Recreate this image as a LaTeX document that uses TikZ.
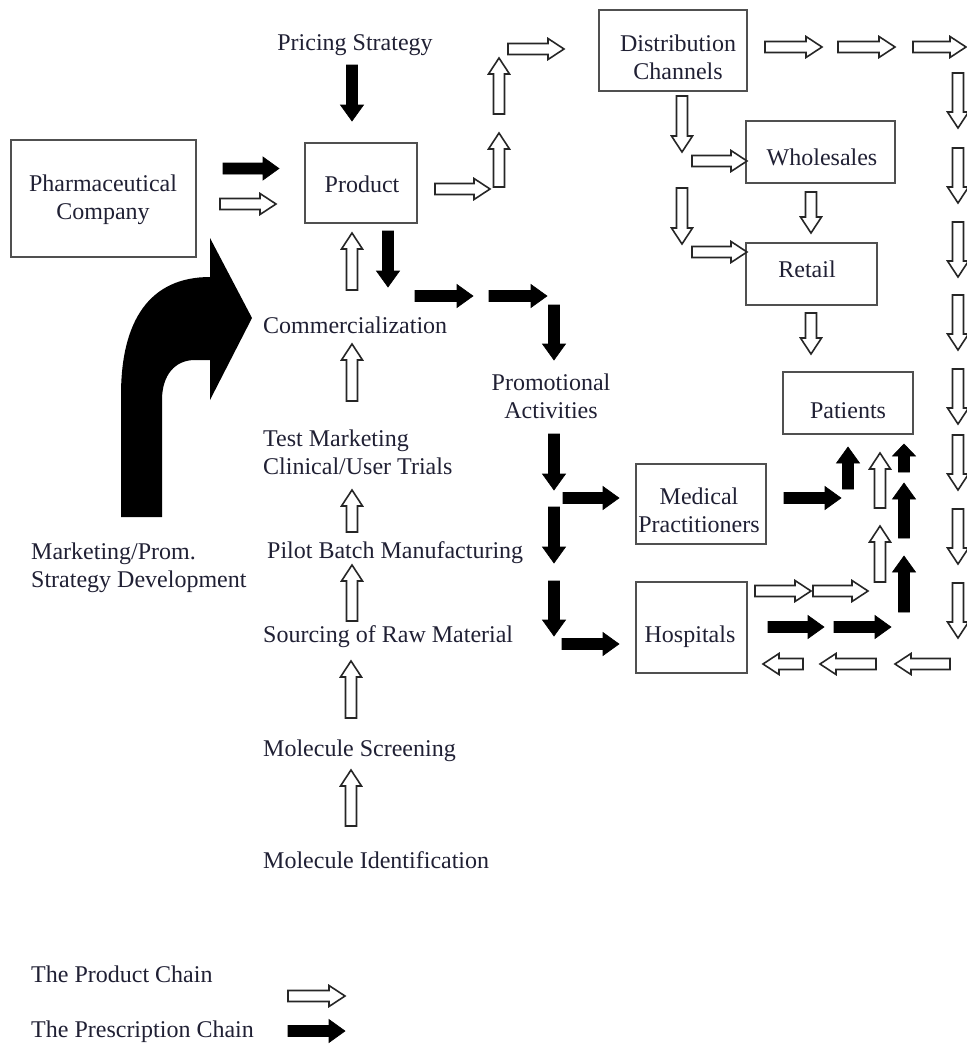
\documentclass[tikz,border=0pt]{standalone}
\usepackage{fontspec}
\setmainfont{Liberation Serif}
\definecolor{txt}{HTML}{202034}
\definecolor{boxc}{HTML}{505050}
\newcommand{\PrArrow}[4]{\begin{scope}[shift={(#1,#2)},rotate=#3]
 \draw[prodarr] (0,-5.5) -- ({#4-16},-5.5) -- ({#4-16},-10.5) -- (#4,0) -- ({#4-16},10.5) -- ({#4-16},5.5) -- (0,5.5) -- cycle;
 \end{scope}}
\newcommand{\RxArrow}[5][16]{\begin{scope}[shift={(#2,#3)},rotate=#4]
 \draw[rxarr] (0,-5.5) -- ({#5-#1},-5.5) -- ({#5-#1},-11.5) -- (#5,0) -- ({#5-#1},11.5) -- ({#5-#1},5.5) -- (0,5.5) -- cycle;
 \end{scope}}
\tikzset{
  box/.style={draw=boxc, line width=1.5pt, inner sep=0pt},
  lbl/.style={font=\fontsize{24}{28}\selectfont, text=txt, inner sep=0pt, align=center},
  lbll/.style={font=\fontsize{24}{28}\selectfont, text=txt, inner sep=0pt, align=left},
  prodarr/.style={draw=black!85, line width=1.6pt, fill=white},
  rxarr/.style={draw=black, line width=0.6pt, fill=black},
}
\begin{document}
\begin{tikzpicture}[x=1pt,y=-1pt]
\useasboundingbox (0,0) rectangle (967,1045);
\fill[white] (0,0) rectangle (967,1045);

% boxes
\node[box, minimum width=185, minimum height=117] (pharma) at (103.5,198.5) {};
\node[box, minimum width=112, minimum height=80] (product) at (361,183) {};
\node[box, minimum width=148, minimum height=81] (dist) at (673,50.5) {};
\node[box, minimum width=149, minimum height=62] (whole) at (820.5,152) {};
\node[box, minimum width=131, minimum height=62] (retail) at (811.5,274) {};
\node[box, minimum width=130, minimum height=62] (patients) at (848,403) {};
\node[box, minimum width=130, minimum height=80] (medical) at (701,504) {};
\node[box, minimum width=111, minimum height=91] (hosp) at (691.5,627.5) {};

% box texts
\node[lbl] (pharmaT) at (103,200) {Pharmaceutical\\Company};
\node[lbl, anchor=base] (productT) at (362,192) {Product};
\node[lbl] (distT) at (678,57) {Distribution\\Channels};
\node[lbl, anchor=base] (wholeT) at (822,165) {Wholesales};
\node[lbl, anchor=base] (retailT) at (807,277) {Retail};
\node[lbl, anchor=base] (patientsT) at (848,418) {Patients};
\node[lbl] (medicalT) at (699,510) {Medical\\Practitioners};
\node[lbl, anchor=base] (hospT) at (690,642) {Hospitals};

% free texts
\node[lbl, anchor=base] (pricing) at (355,50) {Pricing Strategy};
\node[lbl, anchor=base west] (comm) at (263,333) {Commercialization};
\node[lbl] (promo) at (551,396) {Promotional\\Activities};
\node[lbll, anchor=west] (test) at (263,452) {Test Marketing\\Clinical/User Trials};
\node[lbl, anchor=base west] (pilot) at (267,558) {Pilot Batch Manufacturing};
\node[lbl, anchor=base west] (sourcing) at (263,642) {Sourcing of Raw Material};
\node[lbl, anchor=base west] (screen) at (263,756) {Molecule Screening};
\node[lbl, anchor=base west] (ident) at (263,868) {Molecule Identification};
\node[lbll, anchor=west] (mkt) at (31,568) {Marketing/Prom.\\Strategy Development};
\node[lbl, anchor=base west] (legP) at (31,982) {The Product Chain};
\node[lbl, anchor=base west] (legR) at (31,1037) {The Prescription Chain};

% big curved arrow
\fill[black] (121,517) -- (121,395) .. controls (121,320) and (150,277) .. (210,277)
  -- (210,238) -- (252,318) -- (210,400) -- (210,360) -- (195,360)
  .. controls (175,360) and (162,375) .. (162,400) -- (162,517) -- cycle;

% product chain (hollow)
\PrArrow{220}{204}{0}{56}
\PrArrow{435}{189}{0}{55}
\PrArrow{499}{187}{90}{54}
\PrArrow{499}{114}{90}{56}
\PrArrow{508}{49}{0}{56}
\PrArrow{765}{47}{0}{57}
\PrArrow{838}{47}{0}{57}
\PrArrow{913}{47}{0}{53}
\foreach \yy in {73,148,222,295,369,435,509,583}{\PrArrow{958}{\yy}{-90}{55}}
\PrArrow{950}{664}{180}{55}
\PrArrow{876}{664}{180}{56}
\PrArrow{803}{664}{180}{40}
\PrArrow{682}{96}{-90}{56}
\PrArrow{682}{188}{-90}{56}
\PrArrow{692}{161}{0}{55}
\PrArrow{692}{252}{0}{55}
\PrArrow{811}{192}{-90}{41}
\PrArrow{811}{313}{-90}{41}
\PrArrow{352}{290}{90}{57}
\PrArrow{352}{401}{90}{57}
\PrArrow{352}{532}{90}{42}
\PrArrow{352}{621}{90}{56}
\PrArrow{351}{718}{90}{57}
\PrArrow{351}{826}{90}{56}
\PrArrow{755}{591}{0}{56}
\PrArrow{813}{591}{0}{55}
\PrArrow{880}{508}{90}{55}
\PrArrow{880}{582}{90}{56}
\PrArrow{288}{996}{0}{57}

% prescription chain (black)
\RxArrow{352}{65}{-90}{56}
\RxArrow{223}{168.5}{0}{56}
\RxArrow{388}{231}{-90}{56}
\RxArrow{415}{296}{0}{58}
\RxArrow{489}{296}{0}{58}
\RxArrow{554}{305}{-90}{55}
\RxArrow{554}{434}{-90}{56}
\RxArrow{563}{498}{0}{56}
\RxArrow{554}{507}{-90}{56}
\RxArrow{554}{581}{-90}{55}
\RxArrow{562}{644}{0}{57}
\RxArrow{784}{498}{0}{57}
\RxArrow{848}{489}{90}{42}
\RxArrow[12]{904}{472}{90}{28}
\RxArrow{904}{538}{90}{55}
\RxArrow{904}{612}{90}{56}
\RxArrow{768}{627}{0}{56}
\RxArrow{834}{627}{0}{57}
\RxArrow{288}{1031}{0}{57}
\end{tikzpicture}
\end{document}
